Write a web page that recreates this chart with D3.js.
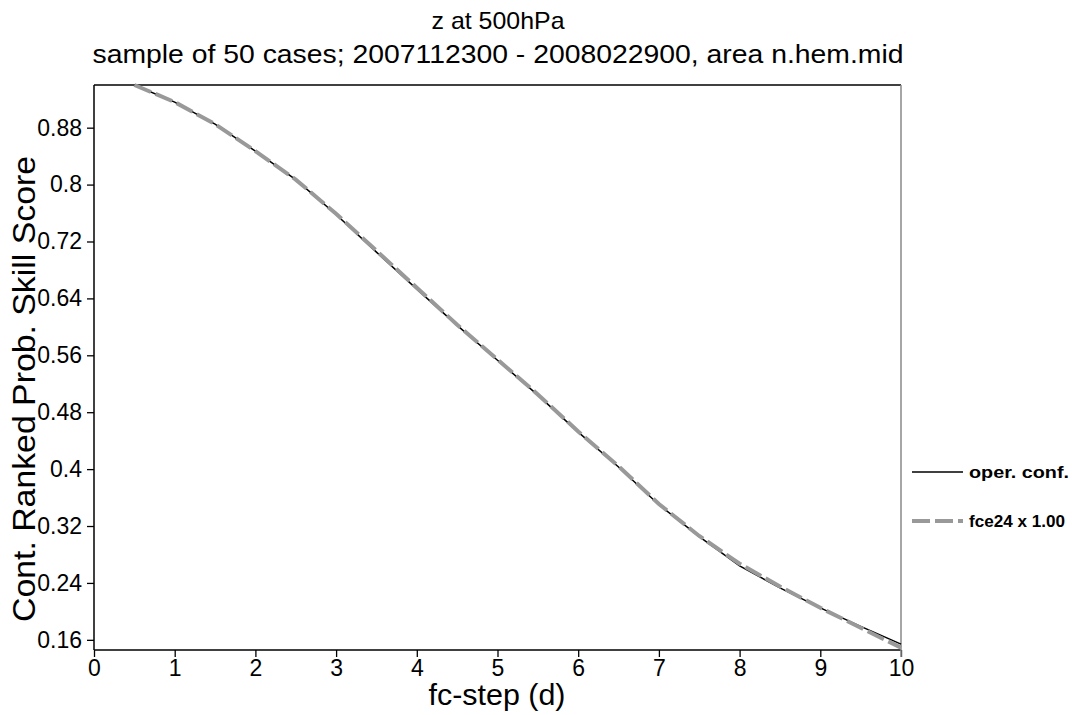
<!DOCTYPE html>
<html>
<head>
<meta charset="utf-8">
<script src="https://cdn.jsdelivr.net/npm/d3@7"></script>
<style>
  html, body { margin: 0; padding: 0; background: #fff; }
  svg { display: block; font-family: "Liberation Sans", Arial, Helvetica, sans-serif; }
</style>
</head>
<body>
<svg id="chart" width="1072" height="715"></svg>
<script>
// ---- data ----
const fcSteps = [0.5, 1, 1.5, 2, 2.5, 3, 3.5, 4, 4.5, 5, 5.5, 6, 6.5, 7, 7.5, 8, 8.5, 9, 9.5, 10];
const operConf = [0.940, 0.916, 0.885, 0.847, 0.807, 0.758, 0.705, 0.653, 0.602, 0.553, 0.504, 0.452, 0.403, 0.350, 0.305, 0.264, 0.233, 0.205, 0.179, 0.154];
const fce24 = [0.940, 0.916, 0.885, 0.847, 0.807, 0.759, 0.707, 0.655, 0.603, 0.554, 0.505, 0.453, 0.404, 0.351, 0.306, 0.267, 0.235, 0.205, 0.177, 0.149];
const seriesNames = ["oper. conf.", "fce24 x 1.00"];
const yTickValues = [0.16, 0.24, 0.32, 0.4, 0.48, 0.56, 0.64, 0.72, 0.8, 0.88];
const yTickLabels = ["0.16", "0.24", "0.32", "0.4", "0.48", "0.56", "0.64", "0.72", "0.8", "0.88"];
const xTickValues = [0, 1, 2, 3, 4, 5, 6, 7, 8, 9, 10];
const titleText = "z at 500hPa";
const subtitleText = "sample of 50 cases; 2007112300 - 2008022900, area n.hem.mid";
const xTitle = "fc-step (d)";
const yTitle = "Cont. Ranked Prob. Skill Score";

// ---- layout ----
const svg = d3.select("#chart");
const L = 94, R = 901, T = 85, B = 650;

const x = d3.scaleLinear().domain([0, 10]).range([L, R]);
const y = d3.scaleLinear().domain([0.1457, 0.94]).range([B, T]);

// axes
const yAxis = d3.axisLeft(y).tickValues(yTickValues)
  .tickFormat((d, i) => yTickLabels[i]).tickSize(7).tickPadding(5);
const gy = svg.append("g").attr("transform", `translate(${L},0)`).call(yAxis);
gy.select(".domain").remove();
gy.selectAll(".tick line").attr("stroke", "#000").attr("stroke-width", 1.3);
gy.selectAll(".tick text").attr("font-size", 23).attr("fill", "#000")
  .attr("font-family", "Liberation Sans, Arial, sans-serif");

const xAxis = d3.axisBottom(x).tickValues(xTickValues)
  .tickFormat(d3.format("d")).tickSize(7).tickPadding(3);
const gx = svg.append("g").attr("transform", `translate(0,${B})`).call(xAxis);
gx.select(".domain").remove();
gx.selectAll(".tick line").attr("stroke", "#000").attr("stroke-width", 1.3);
gx.selectAll(".tick text").attr("font-size", 23).attr("fill", "#000")
  .attr("font-family", "Liberation Sans, Arial, sans-serif");

// frame
svg.append("line").attr("x1", L).attr("x2", L).attr("y1", T).attr("y2", B)
  .attr("stroke", "#000").attr("stroke-width", 1.5);
svg.append("line").attr("x1", L).attr("x2", R).attr("y1", B).attr("y2", B)
  .attr("stroke", "#000").attr("stroke-width", 1.5);
svg.append("line").attr("x1", L).attr("x2", R).attr("y1", T).attr("y2", T)
  .attr("stroke", "#000").attr("stroke-width", 1.3);
svg.append("line").attr("x1", R).attr("x2", R).attr("y1", T).attr("y2", 657)
  .attr("stroke", "#888").attr("stroke-width", 1.5);

// lines
const lineGen = vals => d3.line()
  .x((d, i) => x(fcSteps[i])).y(d => y(d))(vals);

svg.append("path").attr("d", lineGen(operConf))
  .attr("fill", "none").attr("stroke", "#000").attr("stroke-width", 1.5);
svg.append("path").attr("d", lineGen(fce24))
  .attr("fill", "none").attr("stroke", "#999").attr("stroke-width", 4)
  .attr("stroke-dasharray", "18,5");

// legend
const legY = [472, 521];
const legLen = [100, 96];
const legStyles = [
  { stroke: "#000", width: 1.5, dash: null },
  { stroke: "#999", width: 4, dash: "18,5" }
];
seriesNames.forEach((name, i) => {
  const s = legStyles[i];
  const ln = svg.append("line").attr("x1", 912).attr("x2", 963)
    .attr("y1", legY[i]).attr("y2", legY[i])
    .attr("stroke", s.stroke).attr("stroke-width", s.width);
  if (s.dash) ln.attr("stroke-dasharray", s.dash);
  svg.append("text").attr("x", 969).attr("y", legY[i] + 6)
    .attr("font-size", 17).attr("font-weight", "bold").attr("fill", "#000")
    .attr("textLength", legLen[i]).attr("lengthAdjust", "spacingAndGlyphs")
    .text(name);
});

// titles
svg.append("text").attr("x", 498).attr("y", 29).attr("text-anchor", "middle")
  .attr("font-size", 24).attr("fill", "#000")
  .attr("textLength", 133).attr("lengthAdjust", "spacingAndGlyphs")
  .text(titleText);
svg.append("text").attr("x", 498).attr("y", 63).attr("text-anchor", "middle")
  .attr("font-size", 25).attr("fill", "#000")
  .attr("textLength", 811).attr("lengthAdjust", "spacingAndGlyphs")
  .text(subtitleText);
svg.append("text").attr("x", 497).attr("y", 705).attr("text-anchor", "middle")
  .attr("font-size", 29).attr("fill", "#000")
  .attr("textLength", 137).attr("lengthAdjust", "spacingAndGlyphs")
  .text(xTitle);
svg.append("text").attr("transform", "translate(35,389) rotate(-90)")
  .attr("text-anchor", "middle")
  .attr("font-size", 31).attr("fill", "#000")
  .attr("textLength", 466).attr("lengthAdjust", "spacingAndGlyphs")
  .text(yTitle);
</script>
</body>
</html>
